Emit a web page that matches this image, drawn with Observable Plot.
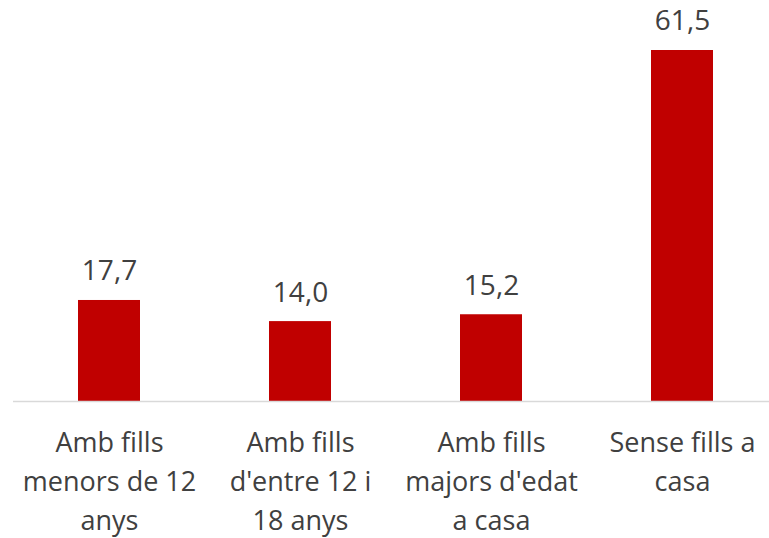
<!DOCTYPE html>
<html>
<head>
<meta charset="utf-8">
<script src="https://cdn.jsdelivr.net/npm/d3@7"></script>
<script src="https://cdn.jsdelivr.net/npm/@observablehq/plot@0.6"></script>
<style>
  html, body { margin: 0; padding: 0; background: #fff; }
</style>
</head>
<body>
<div id="chart"></div>
<script>
const categories = [
  "Amb fills\nmenors de 12\nanys",
  "Amb fills\nd'entre 12 i\n18 anys",
  "Amb fills\nmajors d'edat\na casa",
  "Sense fills a\ncasa"
];
const values = [17.7, 14.0, 15.2, 61.5];

const data = categories.map((c, i) => ({category: c, value: values[i]}));
const fmt = v => d3.format(".1f")(v).replace(".", ",");
const FONT = "'Open Sans', sans-serif";

const chart = Plot.plot({
  width: 769,
  height: 538,
  marginLeft: 13,
  marginRight: 0,
  marginTop: 0,
  marginBottom: 0,
  style: {fontFamily: FONT, background: "#fff", overflow: "hidden"},
  x: {domain: categories, range: [13, 778], paddingInner: 0.678, paddingOuter: 0.339, axis: null},
  y: {domain: [0, 61.5], range: [401, 50], axis: null},
  marks: [
    Plot.barY(data, {x: "category", y: "value", fill: "#c00000"}),
    Plot.ruleY([0], {stroke: "#d9d9d9", strokeWidth: 1.5}),
    Plot.text(data, {x: "category", y: "value", text: d => fmt(d.value), dy: -29, fontSize: 28, fill: "#404040", fontFamily: FONT}),
    Plot.text(data, {x: "category", y: () => 0, text: "category", lineAnchor: "top", dy: 23, lineHeight: 1.44, fontSize: 27, fill: "#404040", fontFamily: FONT})
  ]
});
document.getElementById("chart").appendChild(chart);
</script>
</body>
</html>
